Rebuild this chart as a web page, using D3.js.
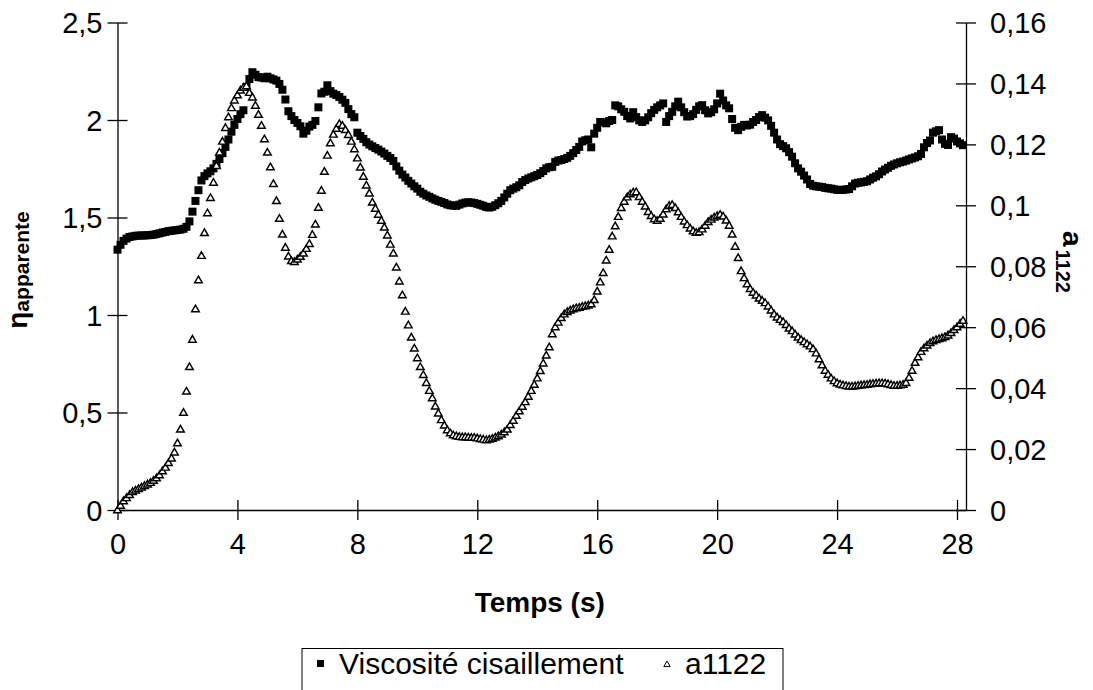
<!DOCTYPE html>
<html><head><meta charset="utf-8">
<script src="https://cdn.jsdelivr.net/npm/d3@7"></script>
<style>
body{margin:0;background:#fff;}
text{font-family:"Liberation Sans",Arial,sans-serif;fill:#000;}
</style></head><body>
<svg id="chart" width="1093" height="690"></svg>
<script>
// Time step of samples (s)
const timeStep = 0.1;
// a1122 (right axis), one value per 0.1 s starting at t = 0
const a1122 = [
0.000,0.0015,0.003,0.004,0.005,0.006,0.0065,0.007,0.0075,0.008,
0.0085,0.009,0.0097,0.0105,0.0115,0.0128,0.014,0.0155,0.017,0.019,
0.022,0.0265,0.032,0.039,0.047,0.056,0.066,0.0755,0.0835,0.091,
0.0975,0.1025,0.1075,0.113,0.1174,0.121,0.1255,0.129,0.132,0.1345,
0.1362,0.1378,0.1387,0.1392,0.137,0.1355,0.1328,0.1298,0.1262,0.1218,
0.1174,0.1126,0.1071,0.1015,0.0957,0.0905,0.0862,0.0833,0.0818,0.0815,
0.0823,0.0832,0.0843,0.0858,0.0874,0.0904,0.0938,0.0993,0.1049,0.1111,
0.1164,0.1205,0.1233,0.1252,0.1268,0.1262,0.1248,0.1232,0.121,0.1185,
0.1155,0.1125,0.1095,0.1066,0.104,0.101,0.099,0.097,0.095,0.0928,
0.0902,0.0872,0.0843,0.0797,0.0751,0.0706,0.0652,0.0607,0.0567,0.0531,
0.0499,0.047,0.0444,0.0418,0.0392,0.0368,0.0341,0.0318,0.0296,0.0278,
0.0263,0.0253,0.0246,0.0243,0.0241,0.024,0.024,0.0239,0.0238,0.0238,
0.0236,0.0234,0.0232,0.023,0.0232,0.0235,0.0239,0.0243,0.0249,0.0256,
0.0265,0.028,0.0294,0.031,0.0325,0.034,0.0355,0.0373,0.0392,0.0412,
0.0433,0.0457,0.0482,0.0508,0.0535,0.0578,0.0601,0.0616,0.0631,0.0643,
0.0651,0.0656,0.066,0.0663,0.0665,0.0668,0.067,0.0672,0.0676,0.069,
0.0718,0.0748,0.0779,0.082,0.0855,0.0899,0.0932,0.0963,0.0992,0.1013,
0.1027,0.1037,0.1043,0.1044,0.1028,0.1013,0.0997,0.0979,0.0966,0.0955,
0.095,0.0957,0.0971,0.0988,0.0999,0.1002,0.0992,0.0978,0.0963,0.0948,
0.0936,0.0925,0.0916,0.0911,0.0913,0.0922,0.0934,0.0946,0.0954,0.0961,
0.0966,0.097,0.0964,0.0951,0.0934,0.0905,0.0865,0.0828,0.0785,0.0762,
0.0742,0.0726,0.0714,0.0705,0.0695,0.0688,0.068,0.0669,0.0656,0.0643,
0.0633,0.0625,0.0618,0.0608,0.0597,0.0588,0.0577,0.0567,0.0559,0.0552,
0.0545,0.0538,0.0529,0.0515,0.0496,0.0476,0.0458,0.0445,0.0433,0.0424,
0.0417,0.0413,0.041,0.0408,0.0406,0.0406,0.0407,0.0409,0.041,0.0411,
0.0412,0.0414,0.0415,0.0416,0.0417,0.0417,0.0416,0.0414,0.0411,0.0409,
0.0409,0.041,0.0412,0.0418,0.0435,0.0458,0.0484,0.0502,0.052,0.0532,
0.0541,0.0549,0.0555,0.0559,0.0562,0.0565,0.0569,0.0574,0.0582,0.0592,
0.0601,0.0612,0.0622
];
// Viscosité cisaillement (left axis), one value per 0.1 s starting at t = 0
const viscosite = [
1.335,1.36,1.38,1.392,1.4,1.403,1.406,1.407,1.408,1.408,
1.409,1.41,1.412,1.415,1.419,1.423,1.426,1.43,1.432,1.434,
1.436,1.438,1.442,1.452,1.48,1.53,1.585,1.64,1.69,1.712,
1.726,1.737,1.752,1.775,1.8,1.83,1.862,1.9,1.94,1.975,
2.005,2.03,2.05,2.17,2.21,2.245,2.232,2.22,2.218,2.214,
2.222,2.214,2.208,2.202,2.185,2.155,2.105,2.045,2.02,2.0,
1.985,1.968,1.93,1.945,1.966,1.975,1.995,2.065,2.136,2.145,
2.178,2.148,2.135,2.128,2.118,2.104,2.088,2.056,2.03,2.014,
1.935,1.918,1.903,1.886,1.874,1.865,1.856,1.848,1.838,1.828,
1.816,1.805,1.79,1.762,1.74,1.72,1.705,1.688,1.674,1.66,
1.648,1.632,1.622,1.613,1.606,1.598,1.591,1.585,1.58,1.574,
1.567,1.563,1.561,1.56,1.566,1.572,1.576,1.578,1.577,1.574,
1.57,1.565,1.56,1.554,1.551,1.555,1.563,1.573,1.585,1.603,
1.622,1.64,1.648,1.655,1.665,1.682,1.692,1.7,1.706,1.712,
1.718,1.727,1.738,1.752,1.758,1.76,1.785,1.792,1.795,1.8,
1.806,1.816,1.83,1.846,1.862,1.89,1.896,1.9,1.86,1.93,
1.96,1.99,1.988,1.983,1.995,2.0,2.075,2.07,2.055,2.042,
2.02,2.008,2.04,2.015,1.998,1.99,1.998,2.014,2.035,2.052,
2.065,2.075,2.085,1.99,2.02,2.042,2.07,2.094,2.065,2.04,
2.018,2.02,2.03,2.052,2.07,2.076,2.05,2.034,2.04,2.055,
2.085,2.135,2.1,2.075,2.06,2.005,1.96,1.948,1.965,1.975,
1.972,1.976,1.99,2.0,2.015,2.025,2.012,1.998,1.97,1.935,
1.9,1.876,1.866,1.855,1.835,1.812,1.778,1.752,1.735,1.715,
1.695,1.672,1.663,1.66,1.658,1.656,1.652,1.65,1.648,1.645,
1.642,1.641,1.642,1.644,1.646,1.66,1.674,1.678,1.68,1.683,
1.686,1.695,1.704,1.711,1.722,1.736,1.746,1.755,1.765,1.772,
1.778,1.783,1.787,1.792,1.798,1.803,1.808,1.814,1.826,1.86,
1.882,1.895,1.935,1.942,1.948,1.9,1.878,1.872,1.912,1.905,
1.89,1.88,1.871
];
const xTicks = [0,4,8,12,16,20,24,28];
const yLeftTicks = [0,0.5,1,1.5,2,2.5];
const yRightTicks = [0,0.02,0.04,0.06,0.08,0.1,0.12,0.14,0.16];
const seriesNames = ["Viscosité cisaillement","a1122"];

const fmt = d => String(d).replace(".", ",");

const svg = d3.select("#chart");
const L = 117.5, R = 966, T = 22.5, B = 510;
const x = d3.scaleLinear().domain([0, 28.3]).range([L, R]);
const yL = d3.scaleLinear().domain([0, 2.5]).range([B, T]);
const yR = d3.scaleLinear().domain([0, 0.16]).range([B, T]);

const axisStyle = g => {
  g.selectAll("path.domain").attr("stroke","#000").attr("stroke-width",1.3);
  g.selectAll(".tick line").attr("stroke","#000").attr("stroke-width",1.3);
  g.selectAll(".tick text").attr("font-size",29).attr("fill","#000")
   .attr("font-family","'Liberation Sans',Arial,sans-serif");
};

// Bottom axis with crossing ticks
const gx = svg.append("g").attr("transform",`translate(0,${B})`)
  .call(d3.axisBottom(x).tickValues(xTicks).tickSize(10).tickSizeOuter(0).tickPadding(13).tickFormat(fmt));
axisStyle(gx);
gx.selectAll(".tick line").attr("y1",-10).attr("y2",10);

// Left axis
const gl = svg.append("g").attr("transform",`translate(${L},0)`)
  .call(d3.axisLeft(yL).tickValues(yLeftTicks).tickSize(10).tickSizeOuter(0).tickPadding(5).tickFormat(fmt));
axisStyle(gl);
gl.selectAll(".tick line").attr("x1",10).attr("x2",-10);
gl.selectAll(".tick text").attr("dy","0.35em");

// Right axis
const gr = svg.append("g").attr("transform",`translate(${R},0)`)
  .call(d3.axisRight(yR).tickValues(yRightTicks).tickSize(10).tickSizeOuter(0).tickPadding(14).tickFormat(fmt));
axisStyle(gr);
gr.selectAll(".tick line").attr("x1",-10).attr("x2",10);
gr.selectAll(".tick text").attr("dy","0.35em");

// Squares (viscosity)
const sq = 8;
svg.append("g").selectAll("rect").data(viscosite).join("rect")
  .attr("x",(d,i)=>x(i*timeStep)-sq/2).attr("y",d=>yL(d)-sq/2)
  .attr("width",sq).attr("height",sq).attr("fill","#000");

// Triangles (a1122)
const triPath = "M0,-3.8L3.8,2.8L-3.8,2.8Z";
svg.append("g").selectAll("path").data(a1122).join("path")
  .attr("d",triPath)
  .attr("transform",(d,i)=>`translate(${x(i*timeStep)},${yR(d)})`)
  .attr("fill","#fff").attr("stroke","#000").attr("stroke-width",1.45);

// Axis titles
svg.append("text").attr("x",(L+R)/2 - 2).attr("y",612).attr("text-anchor","middle")
  .attr("font-size",28).attr("font-weight","bold").text("Temps (s)");

const lt = svg.append("text").attr("transform","translate(27,270) rotate(-90)")
  .attr("text-anchor","middle").attr("font-weight","bold");
lt.append("tspan").attr("font-size",28).text("η");
lt.append("tspan").attr("font-size",21).attr("dy",2).text("apparente");

const rt = svg.append("text").attr("transform","translate(1063,231) rotate(90)")
  .attr("text-anchor","start").attr("font-weight","bold");
rt.append("tspan").attr("font-size",28).text("a");
rt.append("tspan").attr("font-size",20).attr("dy",7).attr("dx",3).text("1122");

// Legend
const lg = svg.append("g");
lg.append("rect").attr("x",302).attr("y",648.5).attr("width",481).attr("height",60)
  .attr("fill","#fff").attr("stroke","#000").attr("stroke-width",1);
lg.append("rect").attr("x",317).attr("y",660).attr("width",7).attr("height",7).attr("fill","#000");
lg.append("text").attr("x",339).attr("y",674).attr("font-size",30).text(seriesNames[0]);
lg.append("path").attr("d","M0,-3L3.2,2.6L-3.2,2.6Z").attr("transform","translate(667,664)")
  .attr("fill","#fff").attr("stroke","#000").attr("stroke-width",1);
lg.append("text").attr("x",685).attr("y",674).attr("font-size",30).text(seriesNames[1]);
</script>
</body></html>
